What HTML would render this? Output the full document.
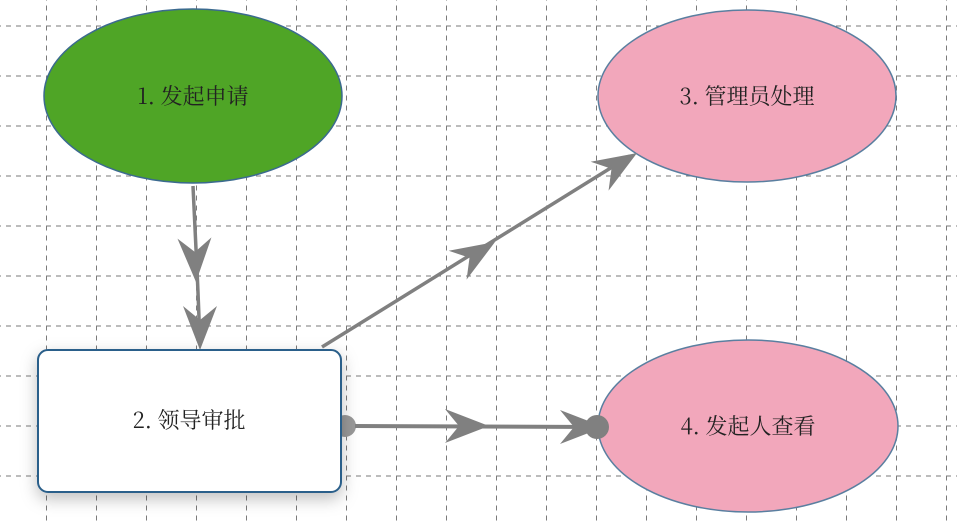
<!DOCTYPE html>
<html><head><meta charset="utf-8"><style>
html,body{margin:0;padding:0;background:#fff;}
svg{display:block;}
text{font-family:"Noto Serif CJK SC","Liberation Serif",serif;font-size:22px;fill:#222;}
</style></head><body>
<svg width="957" height="523" viewBox="0 0 957 523" xmlns="http://www.w3.org/2000/svg">
<defs>
<pattern id="g" x="-4" y="25.5" width="50" height="50" patternUnits="userSpaceOnUse">
<line x1="0" y1="0" x2="50" y2="0" stroke="#7a7a7a" stroke-width="2" stroke-dasharray="5 5"/>
<line x1="0" y1="0" x2="0" y2="50" stroke="#7a7a7a" stroke-width="2" stroke-dasharray="5 5"/>
</pattern>
<filter id="sh" x="-20%" y="-20%" width="140%" height="150%"><feDropShadow dx="0" dy="6" stdDeviation="8" flood-color="#000" flood-opacity="0.25"/></filter>
<polygon id="ah" points="0,0 -44,-17 -30,0 -44,17" fill="#808080"/>
</defs>
<rect width="957" height="523" fill="url(#g)"/>

<ellipse cx="193" cy="96" rx="149" ry="87" fill="#4fa526" stroke="#3b6a8f" stroke-width="1.5"/>
<text x="193" y="104" text-anchor="middle">1. 发起申请</text>

<ellipse cx="747" cy="96" rx="149" ry="86" fill="#f2a7bb" stroke="#5a7fa0" stroke-width="1.5"/>
<text x="747" y="104" text-anchor="middle">3. 管理员处理</text>

<ellipse cx="748" cy="426" rx="150" ry="86" fill="#f2a7bb" stroke="#5a7fa0" stroke-width="1.5"/>
<text x="748" y="434" text-anchor="middle">4. 发起人查看</text>

<!-- 1 -> 2 -->
<path d="M193,186 L197,270 Q198,290 200,345" fill="none" stroke="#808080" stroke-width="3.5"/>
<use href="#ah" transform="translate(196,282) rotate(88)"/>
<use href="#ah" transform="translate(200,350) rotate(90)"/>

<!-- 2 -> 4 -->
<circle cx="345" cy="426" r="11" fill="#999"/>
<rect x="38" y="350" width="303" height="142" rx="10" fill="#fff" stroke="#2c5f8a" stroke-width="2" filter="url(#sh)"/>
<text x="189" y="428" text-anchor="middle">2. 领导审批</text>
<line x1="355" y1="426" x2="595" y2="427" stroke="#808080" stroke-width="4"/>
<use href="#ah" transform="translate(489,426)"/>
<use href="#ah" transform="translate(604,427)"/>
<circle cx="597" cy="427" r="12" fill="#808080"/>

<!-- 2 -> 3 -->
<line x1="322" y1="347" x2="630" y2="156" stroke="#808080" stroke-width="3.5"/>
<use href="#ah" transform="translate(495,242) rotate(-31.8)"/>
<use href="#ah" transform="translate(637,153) rotate(-31.8)"/>
</svg>
</body></html>
